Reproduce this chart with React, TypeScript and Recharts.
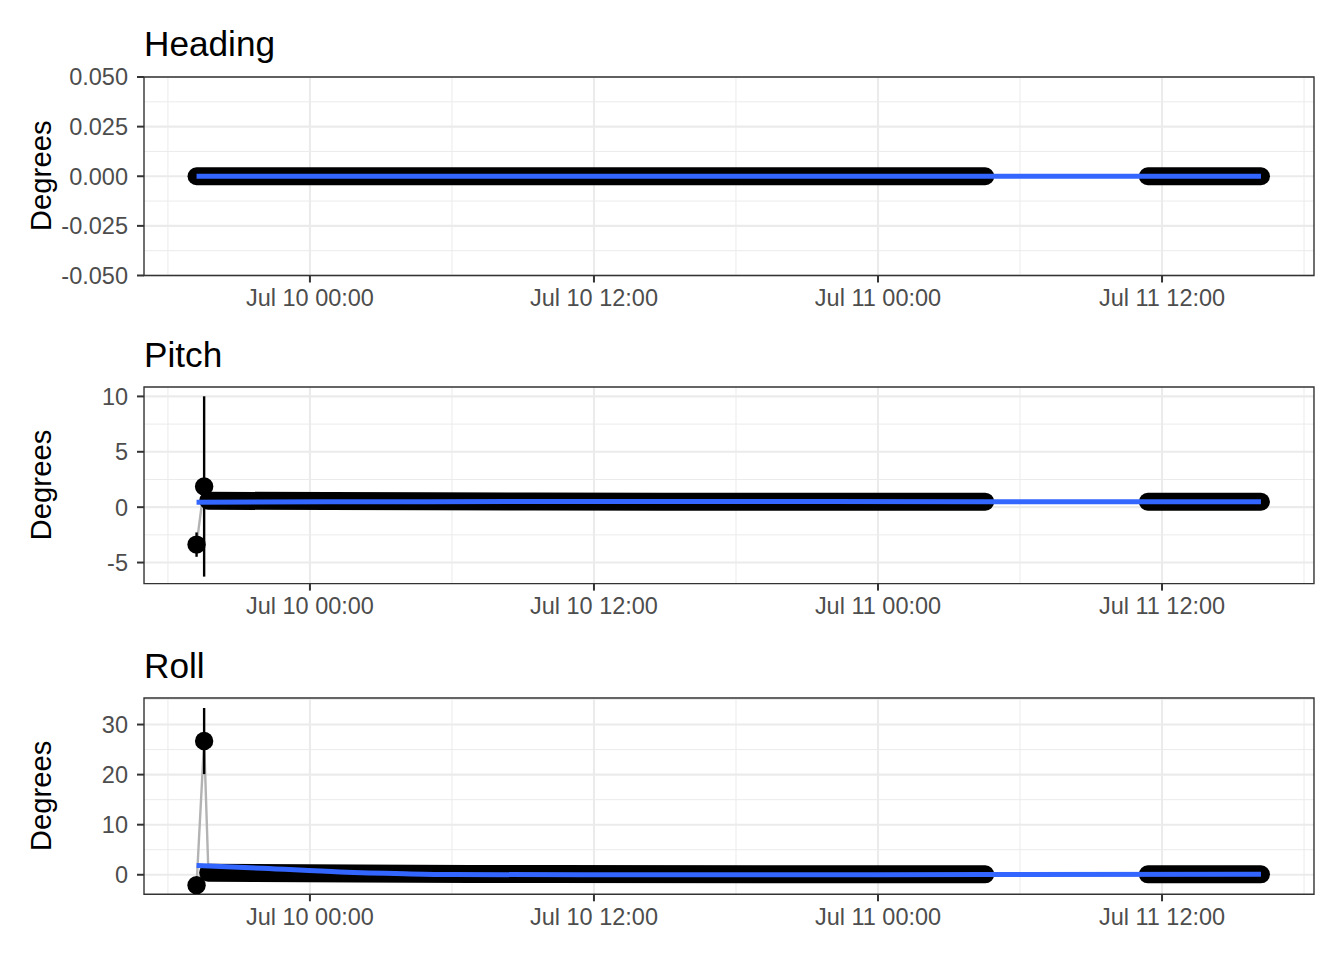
import React from 'react';
import {
  ComposedChart,
  Line,
  Scatter,
  ErrorBar,
  XAxis,
  YAxis,
  CartesianGrid,
  ReferenceArea,
} from 'recharts';

// ---- shared x axis (hours since Jul 10 00:00) ----
const xDomain = [-7.01, 42.42];
const xTickHours = [0, 12, 24, 36];
const xTickLabels = ['Jul 10 00:00', 'Jul 10 12:00', 'Jul 11 00:00', 'Jul 11 12:00'];
const xMinorHours = [-6, 6, 18, 30, 42];

// ---- Heading ----
const headingDomain = [-0.05, 0.05];
const headingTicks = [-0.05, -0.025, 0, 0.025, 0.05];
const headingMinor = [-0.0375, -0.0125, 0.0125, 0.0375];
const headingRaw = [
  { t: -4.79, v: 0 },
  { t: 40.18, v: 0 },
];
const headingPoints: { t: number; v: number; err: number }[] = [];
const headingBand1 = [
  { t: -4.79, v: 0 },
  { t: 28.53, v: 0 },
];
const headingBand2 = [
  { t: 35.4, v: 0 },
  { t: 40.18, v: 0 },
];
const headingSmooth = [
  { t: -4.79, v: 0 },
  { t: 40.18, v: 0 },
];

// ---- Pitch ----
const pitchDomain = [-6.9, 10.85];
const pitchTicks = [-5, 0, 5, 10];
const pitchMinor = [-2.5, 2.5, 7.5];
const pitchRaw = [
  { t: -4.79, v: -3.38 },
  { t: -4.47, v: 1.87 },
  { t: -4.3, v: 0.55 },
];
const pitchPoints = [
  { t: -4.79, v: -3.38, err: 1.1 },
  { t: -4.47, v: 1.87, err: 8.14 },
];
const pitchBand1 = [
  { t: -4.3, v: 0.58 },
  { t: 5, v: 0.53 },
  { t: 15, v: 0.5 },
  { t: 28.53, v: 0.5 },
];
const pitchBand2 = [
  { t: 35.4, v: 0.49 },
  { t: 40.18, v: 0.49 },
];
const pitchSmooth = [
  { t: -4.79, v: 0.45 },
  { t: 5, v: 0.5 },
  { t: 15, v: 0.52 },
  { t: 28.5, v: 0.5 },
  { t: 40.18, v: 0.5 },
];

// ---- Roll ----
const rollDomain = [-3.9, 35.3];
const rollTicks = [0, 10, 20, 30];
const rollMinor = [5, 15, 25, 35];
const rollRaw = [
  { t: -4.79, v: -2.1 },
  { t: -4.47, v: 26.7 },
  { t: -4.3, v: 2.0 },
];
const rollPoints = [
  { t: -4.79, v: -2.1, err: 0.3 },
  { t: -4.47, v: 26.7, err: 6.6 },
];
const rollBand1 = [
  { t: -4.3, v: 0.4 },
  { t: 2, v: 0.25 },
  { t: 10, v: 0.15 },
  { t: 28.53, v: 0.1 },
];
const rollBand2 = [
  { t: 35.4, v: 0.1 },
  { t: 40.18, v: 0.1 },
];
const rollSmooth = [
  { t: -4.79, v: 1.85 },
  { t: -2, v: 1.3 },
  { t: 1.27, v: 0.55 },
  { t: 4, v: 0.2 },
  { t: 6, v: 0.05 },
  { t: 12, v: 0 },
  { t: 20, v: 0 },
  { t: 28.5, v: 0.05 },
  { t: 40.18, v: 0.1 },
];

const FONT = '"Liberation Sans", Arial, Helvetica, sans-serif';
const GRID = '#EBEBEB';
const BORDER = '#333333';
const TICKTEXT = '#4D4D4D';
const BLUE = '#3366FF';

type Pt = { t: number; v: number };

type PanelProps = {
  top: number;
  plotH: number;
  yDomain: number[];
  yTicks: number[];
  yMinor: number[];
  yFormat: (v: number) => string;
  raw: Pt[];
  points: { t: number; v: number; err: number }[];
  band1: Pt[];
  band2: Pt[];
  smooth: Pt[];
};

const dotShape = (props: any) => (
  <circle cx={props.cx} cy={props.cy} r={9.2} fill="#000" />
);

function Panel(p: PanelProps) {
  const marginTop = 20;
  const xAxisH = 45;
  return (
    <div style={{ position: 'absolute', left: 0, top: p.top - marginTop }}>
      <ComposedChart
        width={1344}
        height={marginTop + p.plotH + xAxisH}
        margin={{ top: marginTop, right: 30, bottom: 0, left: 0 }}
      >
        <CartesianGrid
          horizontalValues={p.yMinor}
          verticalValues={xMinorHours}
          stroke={GRID}
          strokeWidth={1}
          fill="none"
        />
        <CartesianGrid
          horizontalValues={p.yTicks}
          verticalValues={xTickHours}
          stroke={GRID}
          strokeWidth={2.1}
          fill="none"
        />
        <XAxis
          type="number"
          dataKey="t"
          domain={xDomain}
          allowDataOverflow
          ticks={xTickHours}
          interval={0}
          tickFormatter={(v: number) => xTickLabels[xTickHours.indexOf(v)] ?? ''}
          height={xAxisH}
          tickSize={7}
          tickMargin={7}
          axisLine={false}
          tickLine={{ stroke: BORDER, strokeWidth: 2 }}
          tick={{ fill: TICKTEXT, fontSize: 23.5, fontFamily: FONT }}
        />
        <YAxis
          type="number"
          domain={p.yDomain}
          allowDataOverflow
          ticks={p.yTicks}
          interval={0}
          tickFormatter={p.yFormat}
          width={144}
          tickSize={7}
          tickMargin={9}
          axisLine={false}
          tickLine={{ stroke: BORDER, strokeWidth: 2 }}
          tick={{ fill: TICKTEXT, fontSize: 23.5, fontFamily: FONT }}
        />
        <Line
          data={p.raw}
          dataKey="v"
          type="linear"
          stroke="#B3B3B3"
          strokeWidth={2.4}
          dot={false}
          isAnimationActive={false}
        />
        <Line
          data={p.band1}
          dataKey="v"
          type="monotone"
          stroke="#000"
          strokeWidth={18}
          strokeLinecap="round"
          strokeLinejoin="round"
          dot={false}
          isAnimationActive={false}
        />
        <Line
          data={p.band2}
          dataKey="v"
          type="monotone"
          stroke="#000"
          strokeWidth={18}
          strokeLinecap="round"
          strokeLinejoin="round"
          dot={false}
          isAnimationActive={false}
        />
        <Scatter
          data={p.points}
          dataKey="v"
          fill="#000"
          shape={dotShape}
          isAnimationActive={false}
        >
          <ErrorBar dataKey="err" direction="y" width={0} stroke="#000" strokeWidth={2.4} />
        </Scatter>
        <Line
          data={p.smooth}
          dataKey="v"
          type="monotone"
          stroke={BLUE}
          strokeWidth={5}
          dot={false}
          isAnimationActive={false}
          zIndex={1000}
        />
        <ReferenceArea
          x1={xDomain[0]}
          x2={xDomain[1]}
          y1={p.yDomain[0]}
          y2={p.yDomain[1]}
          fill="none"
          fillOpacity={0}
          stroke={BORDER}
          strokeWidth={1.4}
          ifOverflow="visible"
        />
      </ComposedChart>
    </div>
  );
}

const panels = [
  { title: 'Heading', top: 76.5, plotH: 198.5, titleY: 56 },
  { title: 'Pitch', top: 386.7, plotH: 196.6, titleY: 366.5 },
  { title: 'Roll', top: 697.7, plotH: 196.3, titleY: 677.5 },
];

export default function App() {
  return (
    <div
      style={{
        position: 'absolute',
        left: 0,
        top: 0,
        width: 1344,
        height: 960,
        background: '#fff',
        overflow: 'hidden',
      }}
    >
      <Panel
        top={panels[0].top}
        plotH={panels[0].plotH}
        yDomain={headingDomain}
        yTicks={headingTicks}
        yMinor={headingMinor}
        yFormat={(v) => v.toFixed(3)}
        raw={headingRaw}
        points={headingPoints}
        band1={headingBand1}
        band2={headingBand2}
        smooth={headingSmooth}
      />
      <Panel
        top={panels[1].top}
        plotH={panels[1].plotH}
        yDomain={pitchDomain}
        yTicks={pitchTicks}
        yMinor={pitchMinor}
        yFormat={(v) => String(v)}
        raw={pitchRaw}
        points={pitchPoints}
        band1={pitchBand1}
        band2={pitchBand2}
        smooth={pitchSmooth}
      />
      <Panel
        top={panels[2].top}
        plotH={panels[2].plotH}
        yDomain={rollDomain}
        yTicks={rollTicks}
        yMinor={rollMinor}
        yFormat={(v) => String(v)}
        raw={rollRaw}
        points={rollPoints}
        band1={rollBand1}
        band2={rollBand2}
        smooth={rollSmooth}
      />
      <svg
        width={1344}
        height={960}
        style={{ position: 'absolute', left: 0, top: 0, pointerEvents: 'none' }}
      >
        {panels.map((pn) => (
          <g key={pn.title}>
            <text x={144} y={pn.titleY} fontSize={35.2} fontFamily={FONT} fill="#000">
              {pn.title}
            </text>
            <text
              transform={`translate(50.5, ${pn.top + pn.plotH / 2}) rotate(-90)`}
              textAnchor="middle"
              fontSize={29.3}
              fontFamily={FONT}
              fill="#000"
            >
              Degrees
            </text>
          </g>
        ))}
      </svg>
    </div>
  );
}
